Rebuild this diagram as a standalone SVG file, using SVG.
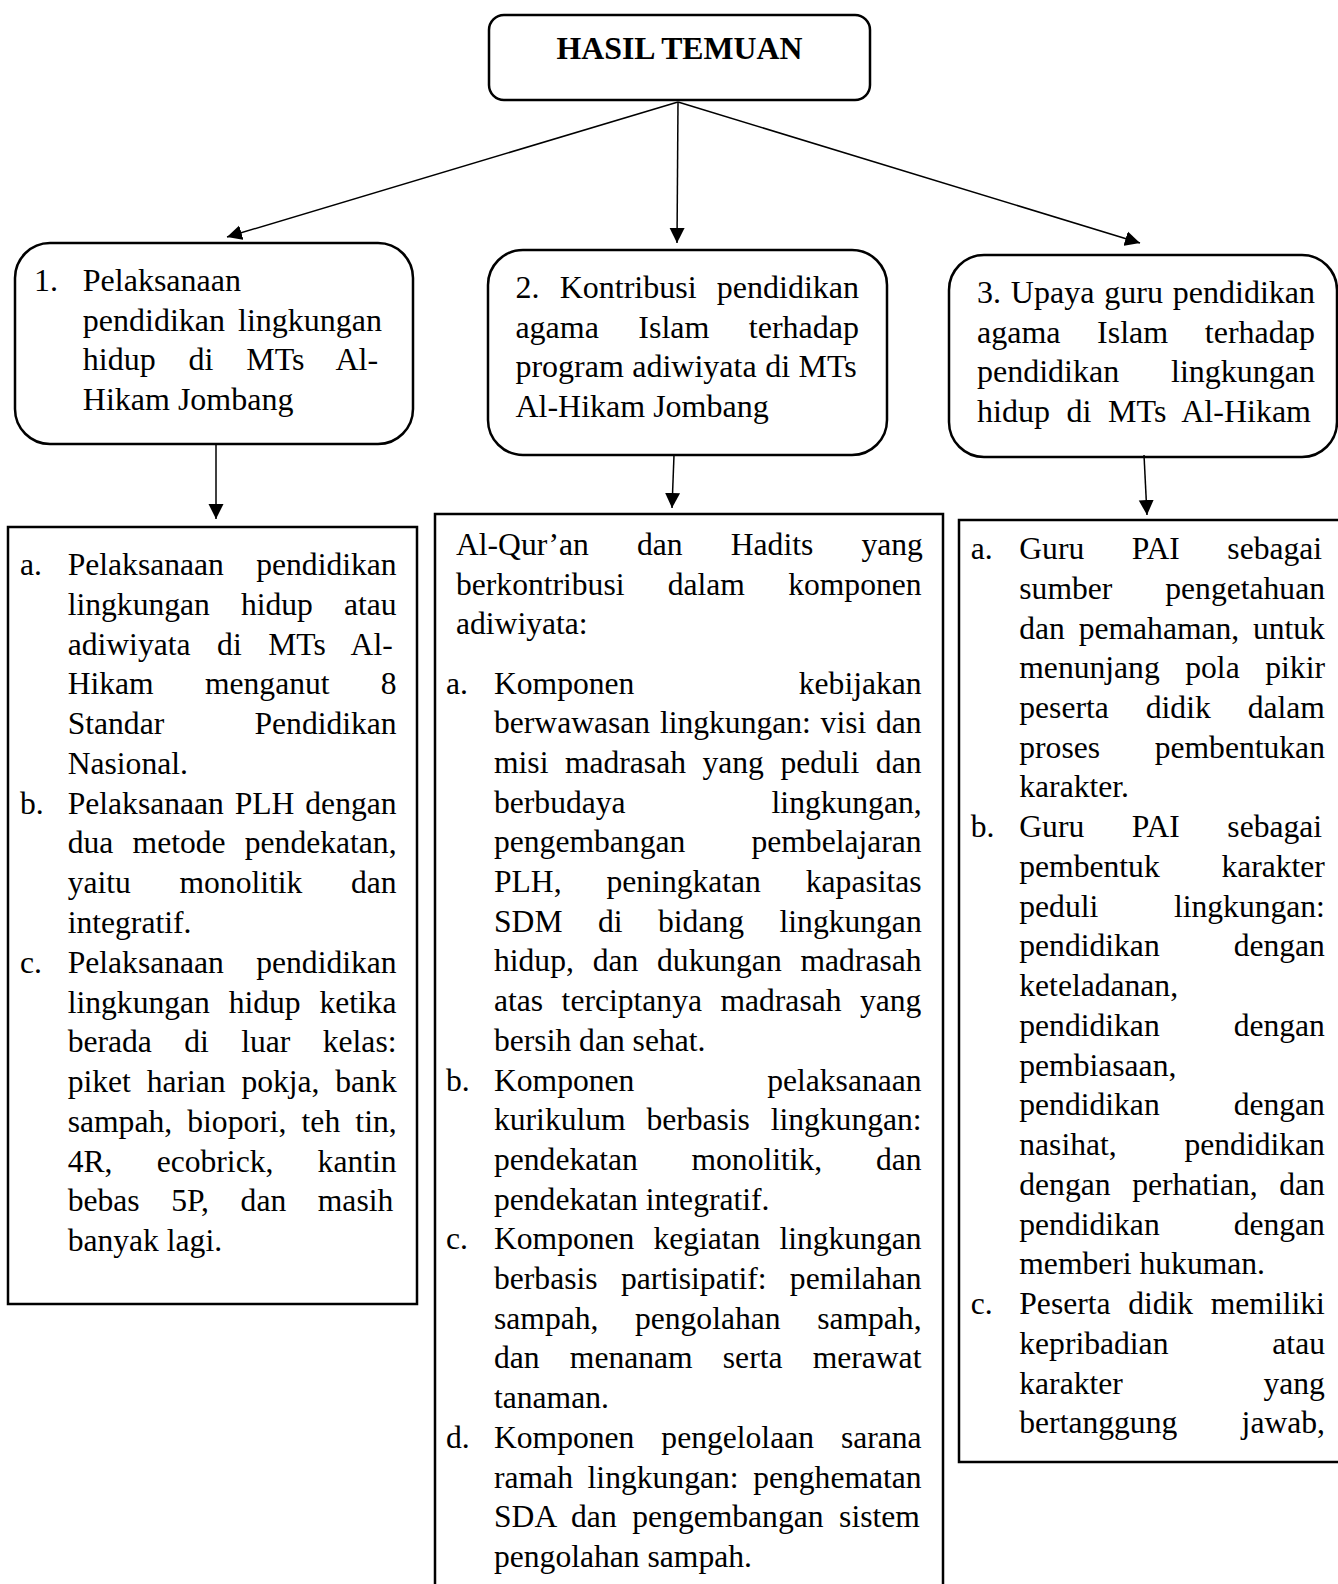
<svg xmlns="http://www.w3.org/2000/svg" width="1338" height="1584" viewBox="0 0 1338 1584">
<style>
.box{fill:#fff;stroke:#000;stroke-width:2.5}
.t{font-family:"Liberation Serif","Times New Roman",serif;font-size:31.6px;fill:#000}
.h{font-family:"Liberation Serif","Times New Roman",serif;font-size:32px;fill:#000}
.ttl{font-family:"Liberation Serif","Times New Roman",serif;font-size:31.8px;font-weight:bold;fill:#000}
.c{stroke:#000;stroke-width:1.5;fill:none;marker-end:url(#ah)}
</style>
<defs>
<marker id="ah" viewBox="0 0 10 10" refX="10" refY="5" markerUnits="userSpaceOnUse" markerWidth="15" markerHeight="16" orient="auto">
<path d="M0,0 L10,5 L0,10 z" fill="#000"/>
</marker>
</defs>
<rect width="1338" height="1584" fill="#fff"/>

<g id="title">
<rect class="box" x="489" y="15" width="381" height="85" rx="15"/>
<text class="ttl" x="679.5" y="59" text-anchor="middle">HASIL TEMUAN</text>
</g>

<g id="node1">
<rect class="box" x="15" y="243" width="398" height="201" rx="35"/>
<text class="h" x="34" y="291">1.</text>
<text class="h" x="82.8" y="291">Pelaksanaan</text>
<text class="h" x="82.8" y="330.5" style="word-spacing:5px">pendidikan lingkungan</text>
<text class="h" x="82.8" y="370" style="word-spacing:24.8px">hidup di MTs Al-</text>
<text class="h" x="82.8" y="409.5">Hikam Jombang</text>
</g>

<g id="node2">
<rect class="box" x="488" y="250" width="399" height="205" rx="35"/>
<text class="h" x="515.4" y="298" style="word-spacing:12.25px">2. Kontribusi pendidikan</text>
<text class="h" x="515.4" y="337.5" style="word-spacing:31.4px">agama Islam terhadap</text>
<text class="h" x="515.4" y="377" style="word-spacing:0.47px">program adiwiyata di MTs</text>
<text class="h" x="515.4" y="416.5">Al-Hikam Jombang</text>
</g>

<g id="node3">
<rect class="box" x="949" y="255" width="388" height="202" rx="35"/>
<text class="h" x="977" y="303" style="word-spacing:1.87px">3. Upaya guru pendidikan</text>
<text class="h" x="977" y="342.5" style="word-spacing:28.6px">agama Islam terhadap</text>
<text class="h" x="977" y="382" style="word-spacing:43.8px">pendidikan lingkungan</text>
<text class="h" x="977" y="421.5" style="word-spacing:8.67px">hidup di MTs Al-Hikam</text>
</g>

<g id="detail1">
<rect class="box" x="8" y="527" width="409" height="777"/>
<text class="t" x="20" y="575">a.</text>
<text class="t" x="67.7" y="575" style="word-spacing:24.5px">Pelaksanaan pendidikan</text>
<text class="t" x="67.7" y="614.8" style="word-spacing:23.2px">lingkungan hidup atau</text>
<text class="t" x="67.7" y="654.5" style="word-spacing:18.7px">adiwiyata di MTs Al-</text>
<text class="t" x="67.7" y="694.3" style="word-spacing:43.4px">Hikam menganut 8</text>
<text class="t" x="67.7" y="734.1" style="word-spacing:82.4px">Standar Pendidikan</text>
<text class="t" x="67.7" y="773.9">Nasional.</text>
<text class="t" x="20" y="813.6">b.</text>
<text class="t" x="67.7" y="813.6" style="word-spacing:3px">Pelaksanaan PLH dengan</text>
<text class="t" x="67.7" y="853.4" style="word-spacing:11.35px">dua metode pendekatan,</text>
<text class="t" x="67.7" y="893.2" style="word-spacing:40.7px">yaitu monolitik dan</text>
<text class="t" x="67.7" y="932.9">integratif.</text>
<text class="t" x="20" y="972.7">c.</text>
<text class="t" x="67.7" y="972.7" style="word-spacing:24.5px">Pelaksanaan pendidikan</text>
<text class="t" x="67.7" y="1012.5" style="word-spacing:10.9px">lingkungan hidup ketika</text>
<text class="t" x="67.7" y="1052.2" style="word-spacing:24.5px">berada di luar kelas:</text>
<text class="t" x="67.7" y="1092" style="word-spacing:7.9px">piket harian pokja, bank</text>
<text class="t" x="67.7" y="1131.8" style="word-spacing:7.27px">sampah, biopori, teh tin,</text>
<text class="t" x="67.7" y="1171.6" style="word-spacing:36.35px">4R, ecobrick, kantin</text>
<text class="t" x="67.7" y="1211.3" style="word-spacing:23.7px">bebas 5P, dan masih</text>
<text class="t" x="67.7" y="1251.1">banyak lagi.</text>
</g>

<g id="detail2">
<rect class="box" x="435" y="514" width="508" height="1090"/>
<text class="t" x="456" y="555" style="word-spacing:40.3px">Al-Qur’an dan Hadits yang</text>
<text class="t" x="456" y="594.5" style="word-spacing:35.35px">berkontribusi dalam komponen</text>
<text class="t" x="456" y="634">adiwiyata:</text>
<text class="t" x="446" y="693.5">a.</text>
<text class="t" x="494" y="693.5" style="word-spacing:156.5px">Komponen kebijakan</text>
<text class="t" x="494" y="733.2" style="word-spacing:1.87px">berwawasan lingkungan: visi dan</text>
<text class="t" x="494" y="772.9" style="word-spacing:8.6px">misi madrasah yang peduli dan</text>
<text class="t" x="494" y="812.6" style="word-spacing:138.1px">berbudaya lingkungan,</text>
<text class="t" x="494" y="852.3" style="word-spacing:58.3px">pengembangan pembelajaran</text>
<text class="t" x="494" y="892" style="word-spacing:37px">PLH, peningkatan kapasitas</text>
<text class="t" x="494" y="931.7" style="word-spacing:27.6px">SDM di bidang lingkungan</text>
<text class="t" x="494" y="971.4" style="word-spacing:10.9px">hidup, dan dukungan madrasah</text>
<text class="t" x="494" y="1011.1" style="word-spacing:10.6px">atas terciptanya madrasah yang</text>
<text class="t" x="494" y="1050.8">bersih dan sehat.</text>
<text class="t" x="446" y="1090.5">b.</text>
<text class="t" x="494" y="1090.5" style="word-spacing:124.9px">Komponen pelaksanaan</text>
<text class="t" x="494" y="1130.2" style="word-spacing:12.85px">kurikulum berbasis lingkungan:</text>
<text class="t" x="494" y="1169.9" style="word-spacing:45.75px">pendekatan monolitik, dan</text>
<text class="t" x="494" y="1209.6">pendekatan integratif.</text>
<text class="t" x="446" y="1249.3">c.</text>
<text class="t" x="494" y="1249.3" style="word-spacing:11.1px">Komponen kegiatan lingkungan</text>
<text class="t" x="494" y="1289" style="word-spacing:15.45px">berbasis partisipatif: pemilahan</text>
<text class="t" x="494" y="1328.7" style="word-spacing:28.65px">sampah, pengolahan sampah,</text>
<text class="t" x="494" y="1368.4" style="word-spacing:22.3px">dan menanam serta merawat</text>
<text class="t" x="494" y="1408.1">tanaman.</text>
<text class="t" x="446" y="1447.8">d.</text>
<text class="t" x="494" y="1447.8" style="word-spacing:19.05px">Komponen pengelolaan sarana</text>
<text class="t" x="494" y="1487.5" style="word-spacing:6.75px">ramah lingkungan: penghematan</text>
<text class="t" x="494" y="1527.2" style="word-spacing:7.7px">SDA dan pengembangan sistem</text>
<text class="t" x="494" y="1566.9">pengolahan sampah.</text>
</g>

<g id="detail3">
<rect class="box" x="959" y="520" width="400" height="942"/>
<text class="t" x="970.7" y="559">a.</text>
<text class="t" x="1019.3" y="559" style="word-spacing:39.65px">Guru PAI sebagai</text>
<text class="t" x="1019.3" y="598.7" style="word-spacing:45.1px">sumber pengetahuan</text>
<text class="t" x="1019.3" y="638.5" style="word-spacing:5.85px">dan pemahaman, untuk</text>
<text class="t" x="1019.3" y="678.2" style="word-spacing:17.7px">menunjang pola pikir</text>
<text class="t" x="1019.3" y="718" style="word-spacing:29.1px">peserta didik dalam</text>
<text class="t" x="1019.3" y="757.7" style="word-spacing:46.8px">proses pembentukan</text>
<text class="t" x="1019.3" y="797.4">karakter.</text>
<text class="t" x="970.7" y="837.2">b.</text>
<text class="t" x="1019.3" y="837.2" style="word-spacing:39.65px">Guru PAI sebagai</text>
<text class="t" x="1019.3" y="876.9" style="word-spacing:53.8px">pembentuk karakter</text>
<text class="t" x="1019.3" y="916.7" style="word-spacing:67.8px">peduli lingkungan:</text>
<text class="t" x="1019.3" y="956.4" style="word-spacing:66.1px">pendidikan dengan</text>
<text class="t" x="1019.3" y="996.1">keteladanan,</text>
<text class="t" x="1019.3" y="1035.9" style="word-spacing:66.1px">pendidikan dengan</text>
<text class="t" x="1019.3" y="1075.6">pembiasaan,</text>
<text class="t" x="1019.3" y="1115.4" style="word-spacing:66.1px">pendidikan dengan</text>
<text class="t" x="1019.3" y="1155.1" style="word-spacing:59.9px">nasihat, pendidikan</text>
<text class="t" x="1019.3" y="1194.8" style="word-spacing:13.75px">dengan perhatian, dan</text>
<text class="t" x="1019.3" y="1234.6" style="word-spacing:66.1px">pendidikan dengan</text>
<text class="t" x="1019.3" y="1274.3">memberi hukuman.</text>
<text class="t" x="970.7" y="1314.1">c.</text>
<text class="t" x="1019.3" y="1314.1" style="word-spacing:9.75px">Peserta didik memiliki</text>
<text class="t" x="1019.3" y="1353.8" style="word-spacing:96px">kepribadian atau</text>
<text class="t" x="1019.3" y="1393.5" style="word-spacing:132.8px">karakter yang</text>
<text class="t" x="1019.3" y="1433.3" style="word-spacing:56.5px">bertanggung jawab,</text>
</g>

<g id="connectors">
<line class="c" x1="678" y1="102" x2="227" y2="237"/>
<line class="c" x1="678" y1="102" x2="677" y2="243"/>
<line class="c" x1="678" y1="102" x2="1140" y2="243"/>
<line class="c" x1="216" y1="444" x2="216" y2="519"/>
<line class="c" x1="674" y1="455" x2="672" y2="508"/>
<line class="c" x1="1144" y1="455" x2="1147" y2="515"/>
</g>
</svg>
